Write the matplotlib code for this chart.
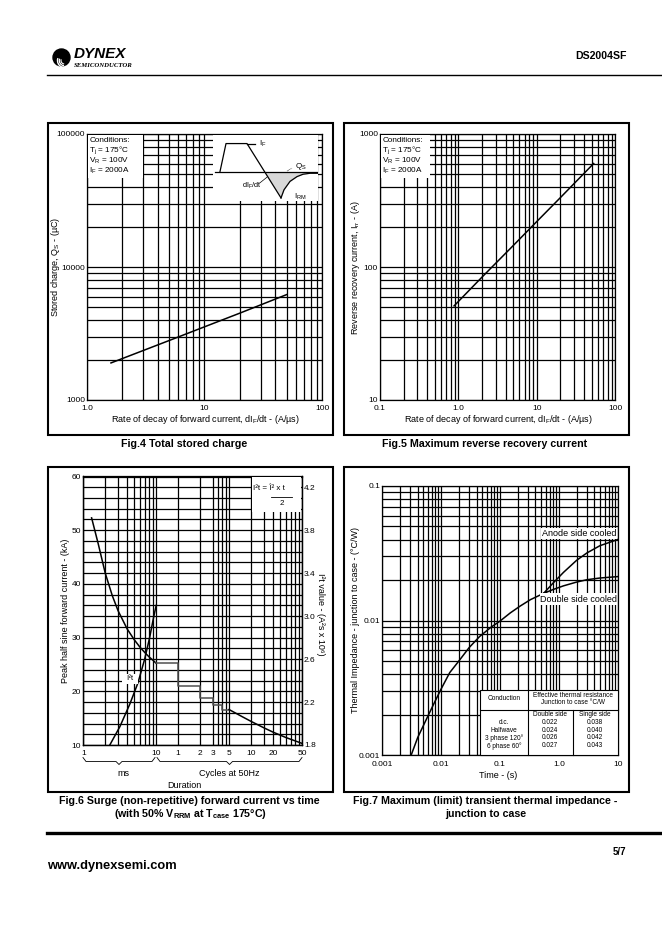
import matplotlib
matplotlib.use("Agg")
import matplotlib.pyplot as plt
from matplotlib.patches import Rectangle, Circle, Arc
from matplotlib.ticker import NullFormatter, LogLocator

plt.rcParams['font.family'] = ['Liberation Sans', 'DejaVu Sans']
plt.rcParams['mathtext.fontset'] = 'custom'
plt.rcParams['mathtext.rm'] = 'Liberation Sans'
plt.rcParams['mathtext.it'] = 'Liberation Sans:italic'
plt.rcParams['mathtext.bf'] = 'Liberation Sans:bold'

# ---- Fig.4 total stored charge
qs_didt = [1.6, 5, 10, 20, 50]
qs_uc = [1900, 2800, 3550, 4500, 6200]

# ---- Fig.5 reverse recovery current
irr_didt = [0.88, 2, 5, 10, 20, 53]
irr_a = [51, 84, 145, 220, 333, 600]

# ---- Fig.6 surge current (time in ms)
surge_ms = [1.3, 1.6, 2.0, 2.5, 3.0, 4.0, 5.0, 6.0, 7.0, 8.0, 9.0, 10.0]
surge_ka = [52.3, 47.5, 42.0, 37.8, 35.0, 31.6, 29.6, 28.2, 27.2, 26.4, 25.8, 25.2]
step_ms = [10, 20, 40, 60, 80, 100]
step_ka = [25.2, 20.9, 18.7, 17.5, 16.6, 16.6]
tail_ms = [100, 150, 200, 300, 400, 600, 1000]
tail_ka = [16.6, 15.3, 14.4, 13.2, 12.4, 11.4, 10.3]
i2t_ms = [2.31, 3.17, 4.34, 5.63, 6.95, 8.13, 9.22, 10.0]
i2t_val = [1.80, 1.97, 2.18, 2.38, 2.60, 2.80, 2.99, 3.10]
surge_tick_ms = [1, 10, 20, 40, 60, 100, 200, 400, 1000]
surge_tick_lbl = ['1', '10', '1', '2', '3', '5', '10', '20', '50']
surge_grid_ms = [2, 3, 4, 5, 6, 7, 8, 9, 70, 80, 90,
                 300, 500, 600, 700, 800, 900]
i2t_ticks = [1.8, 2.2, 2.6, 3.0, 3.4, 3.8, 4.2]

# ---- Fig.7 transient thermal impedance
zth_t = [0.0031, 0.004, 0.0058, 0.0075, 0.01, 0.014, 0.02, 0.03, 0.045,
         0.07, 0.1, 0.15, 0.22, 0.33, 0.55]
zth_common = [0.001, 0.00135, 0.0019, 0.0024, 0.0031, 0.0041, 0.0050,
              0.0063, 0.0076, 0.0089, 0.0099, 0.0114, 0.0128, 0.0143, 0.0159]
zth_t_end = [0.55, 0.8, 1.2, 2.0, 3.0, 5.0, 10.0]
zth_double = [0.0159, 0.0170, 0.0181, 0.0193, 0.0201, 0.0207, 0.0212]
zth_anode = [0.0159, 0.0190, 0.0228, 0.0280, 0.0318, 0.0360, 0.0400]
conduction = ['d.c.', 'Halfwave', '3 phase 120°', '6 phase 60°']
rth_double = ['0.022', '0.024', '0.026', '0.027']
rth_single = ['0.038', '0.040', '0.042', '0.043']

# ---- waveform sketch in Fig.4 (arbitrary units)
wave_t = [0.7, 1.3, 3.4, 6.8]
wave_i = [0, 1, 1, -0.94]
rec_t = [6.8, 7.1, 7.7, 8.4, 9.0, 9.7, 10.5]
rec_i = [-0.94, -0.65, -0.35, -0.18, -0.095, -0.06, -0.06]

W, H = 662, 936
fig = plt.figure(figsize=(W / 100, H / 100), dpi=100)


def px_axes(l, t, r, b, **kw):
    return fig.add_axes([l / W, 1 - b / H, (r - l) / W, (b - t) / H], **kw)


def grid_style(ax):
    ax.tick_params(which='both', length=0, labelsize=6.0)
    ax.tick_params(axis='x', pad=3.5)
    ax.tick_params(axis='y', pad=1.5)
    ax.grid(True, which='both', color='black', linewidth=0.9)
    ax.set_axisbelow(True)
    for s in ax.spines.values():
        s.set_linewidth(0.9)


def loglog_axes(ax, xlim, ylim, xt, xl, yt, yl):
    ax.set_xscale('log')
    ax.set_yscale('log')
    ax.set_xlim(*xlim)
    ax.set_ylim(*ylim)
    ax.set_xticks(xt, xl)
    ax.set_yticks(yt, yl)
    for a in (ax.xaxis, ax.yaxis):
        a.set_minor_locator(LogLocator(base=10, subs=range(2, 10)))
        a.set_minor_formatter(NullFormatter())
    grid_style(ax)


# Fig.4
ax4 = px_axes(87, 134, 322, 400)
loglog_axes(ax4, (1, 100), (1000, 100000), [1, 10, 100], ['1.0', '10', '100'],
            [1000, 10000, 100000], ['1000', '10000', '100000'])
ax4.plot(qs_didt, qs_uc, color='black', lw=1.1)

ins = px_axes(213, 134.6, 318, 201)
ins.set_xlim(0, 10.5)
ins.set_ylim(-1.05, 1.32)
ins.set_xticks([])
ins.set_yticks([])
for s in ins.spines.values():
    s.set_visible(False)
ins.fill_between([5.15] + rec_t, [0] + rec_i, 0, color='#d8d8d8', lw=0)
ins.plot([0.2, 10.5], [0, 0], color='black', lw=0.9)
ins.plot(wave_t, wave_i, color='black', lw=0.9)
ins.plot([3.4, 4.2], [1, 1], color='black', lw=0.9)
ins.plot(rec_t, rec_i, color='black', lw=0.9)
ins.plot([7.4, 7.9], [0.02, 0.12], color='black', lw=0.5, ls=(0, (1, 1)))
ins.plot([4.7, 5.4], [-0.4, -0.2], color='black', lw=0.5)
ins.text(4.6, 1.0, 'I$_\\mathrm{F}$', fontsize=5.8, va='center')
ins.text(8.2, 0.18, 'Q$_\\mathrm{S}$', fontsize=5.8, va='center')
ins.text(3.9, -0.52, 'dI$_\\mathrm{F}$/dt', fontsize=5.3, va='center', ha='center')
ins.text(8.1, -0.9, 'I$_\\mathrm{RM}$', fontsize=5.8, va='center')

# Fig.5
ax5 = px_axes(380, 134, 615.3, 400)
loglog_axes(ax5, (0.1, 100), (10, 1000), [0.1, 1, 10, 100], ['0.1', '1.0', '10', '100'],
            [10, 100, 1000], ['10', '100', '1000'])
ax5.plot(irr_didt, irr_a, color='black', lw=1.1)

# Fig.6
ax6 = px_axes(83.3, 476.5, 302, 745)
ax6.set_xscale('log')
ax6.set_xlim(1, 1000)
ax6.set_ylim(10, 60)
ax6.set_xticks(surge_tick_ms, surge_tick_lbl)
ax6.set_xticks(surge_grid_ms, minor=True)
ax6.xaxis.set_minor_formatter(NullFormatter())
ax6.set_yticks(range(10, 61, 10))
ax6.set_yticks(range(10, 61, 2), minor=True)
grid_style(ax6)
ax6.plot(surge_ms, surge_ka, color='black', lw=1.1)
ax6.step(step_ms, step_ka, where='post', color='#505050', lw=1.1)
ax6.plot(tail_ms, tail_ka, color='black', lw=1.1)
ax6r = ax6.twinx()
ax6r.set_ylim(1.8, 4.3)
ax6r.set_yticks(i2t_ticks, ['%.1f' % v for v in i2t_ticks])
ax6r.tick_params(length=0, labelsize=6.0, pad=1.5)
for s in ax6r.spines.values():
    s.set_linewidth(0.9)
ax6r.plot(i2t_ms, i2t_val, color='black', lw=1.1)

# Fig.7
ax7 = px_axes(382.3, 486, 617.7, 755)
loglog_axes(ax7, (0.001, 10), (0.001, 0.1), [0.001, 0.01, 0.1, 1, 10],
            ['0.001', '0.01', '0.1', '1.0', '10'], [0.001, 0.01, 0.1], ['0.001', '0.01', '0.1'])
ax7.tick_params(axis='x', pad=4.5)
ax7.plot(zth_t, zth_common, color='black', lw=1.1)
ax7.plot(zth_t_end, zth_double, color='black', lw=1.1)
ax7.plot(zth_t_end, zth_anode, color='black', lw=1.1)

# ---- page overlay in pixel coordinates
page = fig.add_axes([0, 0, 1, 1], zorder=10)
page.set_xlim(0, W)
page.set_ylim(H, 0)
page.axis('off')


def box(x0, y0, x1, y1, **kw):
    kw.setdefault('facecolor', 'white')
    kw.setdefault('edgecolor', 'none')
    page.add_patch(Rectangle((x0, y0), x1 - x0, y1 - y0, **kw))


def brace(x0, x1, y, h=4):
    xm = (x0 + x1) / 2
    page.plot([x0, x0 + 3, xm - 3, xm, xm + 3, x1 - 3, x1],
              [y, y + h, y + h, y + 2 * h - 1, y + h, y + h, y],
              color='black', lw=0.6)


# header / footer
page.add_patch(Circle((61.5, 57.5), 8.5, color='black'))
for r, w in [(7.0, 1.0), (5.2, 0.9), (3.5, 0.8)]:
    page.add_patch(Arc((64.5, 60.5), 2 * r, 2 * r, theta1=95, theta2=200,
                       color='white', lw=w))
page.text(73.5, 53.5, 'DYNEX', fontsize=11, fontweight='heavy', style='italic',
          va='center')
page.text(74, 65.5, 'SEMICONDUCTOR', fontsize=4.9, family='Liberation Serif',
          style='italic', fontweight='bold', va='center')
page.text(627, 56, 'DS2004SF', fontsize=7.6, fontweight='bold', ha='right', va='center')
page.plot([47, 662], [74.5, 74.5], color='black', lw=1.0)
page.plot([47, 662], [833, 833], color='black', lw=2.4)
page.text(626, 852, '5/7', fontsize=7, fontweight='bold', ha='right', va='center')
page.text(47, 866, 'www.dynexsemi.com', fontsize=9.3, fontweight='bold', va='center')

# frames
for x0, y0, x1, y1 in [(48, 122.5, 333, 434.5), (343.5, 122.5, 629, 434.5),
                       (48, 467, 333, 792), (343.5, 467, 629, 792)]:
    box(x0, y0, x1, y1, fill=False, edgecolor='black', linewidth=1.5)

# conditions boxes
cond = ['Conditions:', 'T$_\\mathrm{j}$ = 175°C', 'V$_\\mathrm{R}$ = 100V',
        'I$_\\mathrm{F}$ = 2000A']
for x0, x1 in [(87.6, 143), (380.6, 430)]:
    box(x0, 134.6, x1, 178)
    for k, s in enumerate(cond):
        page.text(x0 + 1.8, 140 + k * 10.3, s, fontsize=5.9, va='center')

# axis titles
lab = dict(fontsize=6.5, ha='center', va='center')
xl = 'Rate of decay of forward current, dI$_\\mathrm{F}$/dt - (A/µs)'
page.text(205, 420, xl, **lab)
page.text(498, 420, xl, **lab)
page.text(56, 267, 'Stored charge, Q$_\\mathrm{S}$ - (µC)', rotation=90, **lab)
page.text(356, 268, 'Reverse recovery current, I$_\\mathrm{rr}$ - (A)', rotation=90, **lab)
page.text(65, 611, 'Peak half sine forward current - (kA)', rotation=90, **lab)
page.text(321, 614, 'I²t value - (A²s x 10⁶)', rotation=-90, **lab)
page.text(356, 620, 'Thermal Impedance - junction to case - (°C/W)', rotation=90, **lab)
page.text(498, 776, 'Time - (s)', **lab)

# Fig.6 extras
box(252, 477.3, 301.2, 512)
page.text(253, 489, 'I²t = Î² x t', fontsize=5.8, va='center')
page.plot([271, 292], [496.5, 496.5], color='black', lw=0.6)
page.text(281.5, 503.5, '2', fontsize=5.8, ha='center', va='center')
box(121.7, 674, 138.3, 683.5)
page.text(130, 678.5, 'I²t', fontsize=5.8, ha='center', va='center')
brace(83, 155, 757.5)
brace(157, 302, 757.5)
page.text(123, 773, 'ms', **lab)
page.text(229, 773, 'Cycles at 50Hz', **lab)
page.text(184, 785, 'Duration', **lab)

# Fig.7 extras
box(541, 528, 617.2, 539)
page.text(616.5, 533.5, 'Anode side cooled', fontsize=6.5, ha='right', va='center')
box(540, 593, 617.2, 604.5)
page.text(616.5, 599, 'Double side cooled', fontsize=6.5, ha='right', va='center')
box(480, 690, 617.7, 755, edgecolor='black', linewidth=0.8)
page.plot([527.5, 527.5], [690, 755], color='black', lw=0.8)
page.plot([572.5, 572.5], [710, 755], color='black', lw=0.8)
page.plot([480, 617.7], [710, 710], color='black', lw=0.8)
tf = dict(fontsize=4.7, ha='center', va='center')
page.text(504, 699, 'Conduction', **tf)
page.text(572.8, 695.5, 'Effective thermal resistance', **tf)
page.text(572.8, 702.5, 'Junction to case °C/W', **tf)
page.text(550, 715, 'Double side', **tf)
page.text(595, 715, 'Single side', **tf)
for k in range(4):
    y = 722.3 + k * 7.8
    page.text(504, y, conduction[k], **tf)
    page.text(550, y, rth_double[k], **tf)
    page.text(595, y, rth_single[k], **tf)

# captions
cap = dict(fontsize=7.7, fontweight='bold', ha='center', va='center')
page.text(184, 444, 'Fig.4 Total stored charge', **cap)
page.text(485, 444, 'Fig.5 Maximum reverse recovery current', **cap)
page.text(189, 801, 'Fig.6 Surge (non-repetitive) forward current vs time', **cap)
page.text(190, 814, '(with 50% V$_\\mathbf{RRM}$ at T$_\\mathbf{case}$ 175°C)', **cap)
page.text(485, 801, 'Fig.7 Maximum (limit) transient thermal impedance -', **cap)
page.text(486, 814, 'junction to case', **cap)

fig.savefig('out.png', dpi=100)
